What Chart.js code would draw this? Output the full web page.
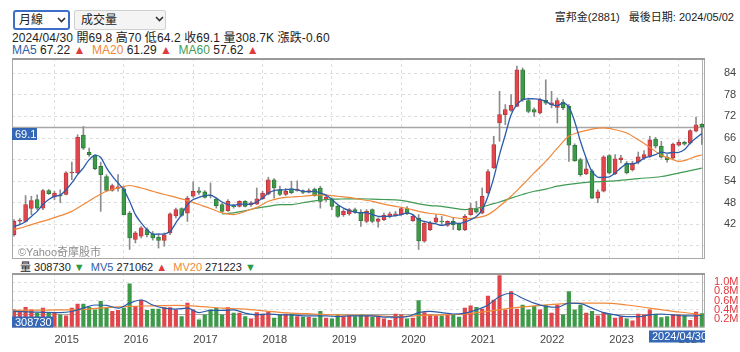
<!DOCTYPE html>
<html>
<head>
<meta charset="utf-8">
<script src="https://cdn.jsdelivr.net/npm/chart.js@4.4.1/dist/chart.umd.min.js"></script>
<style>
  body { margin: 0; width: 740px; height: 352px; background: #fff; position: relative; overflow: hidden;
         font-family: "Liberation Sans", Arial, "Noto Sans CJK TC", sans-serif; color: #222; }
  .abs { position: absolute; white-space: nowrap; }
  .sel { position: absolute; top: 10px; height: 20px; box-sizing: border-box; font-size: 12px; line-height: 16px; }
  .sel svg { position: absolute; top: 5px; }
  .info { font-size: 11px; line-height: 12px; }
  .big { font-size: 12px; }
  .up { color: #e0393e; } .dn { color: #2f9a3f; }
  canvas { position: absolute; left: 0; }
</style>
</head>
<body>
<div class="sel" style="left:13px;width:57px;border:2px solid #3d6fc6;border-radius:3px;padding-left:4px;">月線
  <svg style="left:42px" width="9" height="6"><polyline points="1,1 4.5,4.5 8,1" fill="none" stroke="#333" stroke-width="1.6"/></svg></div>
<div class="sel" style="left:74px;width:92px;border:1px solid #d0d0d0;background:#f4f4f4;border-radius:2px;padding:1px 0 0 6px;">成交量
  <svg style="left:80px" width="9" height="6"><polyline points="1,1 4.5,4.5 8,1" fill="none" stroke="#333" stroke-width="1.6"/></svg></div>
<div class="abs info" style="right:6px;top:11px;">富邦金(2881)&nbsp;&nbsp; 最後日期: 2024/05/02</div>
<div class="abs info big" style="left:12px;top:32px;letter-spacing:0.1px;">2024/04/30 開69.8 高70 低64.2 收69.1 量308.7K 漲跌-0.60</div>
<div class="abs info big" style="left:12px;top:44px;"><span style="color:#2a5caa">MA5</span> 67.22 <span class="up">▲</span>&nbsp;
  <span style="color:#f0883a">MA20</span> 61.29 <span class="up">▲</span>&nbsp; <span style="color:#3f9b53">MA60</span> 57.62 <span class="up">▲</span></div>
<div class="abs info" style="left:20px;top:261px;">量 308730 <span class="dn">▼</span>&nbsp; <span style="color:#2a5caa">MV5</span> 271062 <span class="up">▲</span>&nbsp;
  <span style="color:#f0883a">MV20</span> 271223 <span class="dn">▼</span></div>

<canvas id="price" width="740" height="206" style="top:56px"></canvas>
<canvas id="volume" width="740" height="80" style="top:270px"></canvas>

<script>
// monthly candles, 2014/05 .. 2024/04 (index 0 .. 119)
const firstYear = 2014, firstMonth = 5;
const yearLabels = ['2015', '2016', '2017', '2018', '2019', '2020', '2021', '2022', '2023', '2024'];
const priceTicks = [36, 42, 48, 54, 60, 66, 72, 78, 84];
const volumeTicks = [200, 400, 600, 800, 1000]; // thousands of lots

const opens = [39.1, 42.9, 42.8, 46.4, 48.9, 46.5, 51.4, 49.6, 50.1, 50.3, 56.3, 56.3, 66.8, 62.0, 61.2, 58.1, 55.3, 51.4, 52.0, 51.9,
  45.1, 37.8, 38.7, 40.5, 39.3, 38.4, 37.5, 39.6, 44.3, 46.4, 45.1, 49.8, 51.3, 51.0, 50.1, 49.0, 47.5, 45.8, 47.2, 47.0,
  48.4, 47.4, 47.6, 49.1, 50.4, 54.4, 51.6, 50.3, 51.9, 51.4, 51.3, 51.0, 51.8, 52.1, 48.8, 49.1, 47.0, 44.7, 44.9, 46.1,
  45.4, 42.8, 46.1, 42.8, 43.3, 44.2, 44.5, 44.7, 46.4, 43.0, 43.7, 37.3, 40.5, 42.6, 42.9, 41.7, 42.8, 42.1, 40.5, 44.7,
  46.3, 45.1, 50.7, 57.7, 70.2, 72.5, 73.7, 74.8, 85.0, 76.4, 73.9, 73.0, 76.5, 75.3, 74.5, 76.0, 74.8, 64.0, 60.0, 56.0,
  56.9, 49.3, 51.2, 61.1, 56.0, 60.0, 59.0, 57.2, 59.3, 60.4, 60.9, 65.7, 63.7, 60.6, 60.4, 64.0, 64.8, 64.6, 67.9, 69.8];
const highs = [43.3, 43.6, 50.0, 49.8, 50.2, 51.7, 51.7, 51.2, 51.6, 56.7, 59.3, 66.9, 69.2, 63.2, 61.4, 59.3, 55.8, 53.2, 55.8, 52.6,
  45.6, 40.0, 41.4, 41.0, 40.0, 39.1, 39.6, 45.2, 46.5, 46.6, 49.8, 53.8, 52.3, 51.4, 53.5, 49.3, 47.9, 48.9, 47.5, 48.6,
  48.6, 48.4, 52.1, 51.2, 55.1, 54.7, 52.6, 52.0, 54.0, 54.1, 51.6, 51.9, 52.1, 52.6, 50.1, 49.3, 47.3, 46.1, 46.4, 46.5,
  46.1, 46.1, 46.3, 43.8, 45.1, 45.4, 45.6, 46.8, 46.9, 44.7, 44.7, 42.6, 42.8, 44.7, 44.2, 43.0, 43.8, 42.4, 44.7, 47.9,
  48.4, 52.1, 57.2, 66.5, 79.0, 75.3, 78.1, 86.0, 85.5, 77.1, 74.4, 77.1, 82.2, 79.0, 77.1, 76.7, 75.3, 64.4, 60.4, 60.4,
  57.2, 51.6, 61.1, 61.4, 61.4, 61.2, 59.5, 59.5, 62.1, 62.5, 66.5, 66.2, 65.1, 61.4, 64.6, 65.5, 65.1, 68.3, 71.8, 70.0];
const lows = [38.7, 42.2, 42.6, 44.7, 46.1, 46.1, 50.3, 48.8, 48.0, 50.2, 54.4, 56.1, 62.8, 60.9, 57.2, 45.6, 51.2, 51.2, 51.2, 44.7,
  35.0, 36.8, 38.2, 38.5, 37.6, 35.4, 35.9, 39.1, 43.8, 44.2, 42.8, 49.5, 50.3, 49.3, 49.3, 46.5, 45.4, 45.6, 46.5, 46.8,
  46.8, 47.0, 47.5, 48.9, 50.2, 49.3, 50.0, 50.0, 50.5, 51.2, 50.5, 50.7, 49.8, 46.5, 48.4, 46.1, 43.9, 44.2, 44.5, 45.0,
  41.4, 42.4, 42.4, 41.2, 43.0, 43.8, 44.2, 44.5, 44.7, 42.8, 35.0, 37.0, 40.2, 42.4, 41.9, 41.4, 40.5, 40.2, 40.2, 44.5,
  45.1, 44.9, 50.4, 57.5, 65.1, 69.7, 73.4, 74.8, 76.2, 73.0, 72.0, 72.7, 75.3, 74.4, 70.2, 73.9, 59.5, 59.5, 55.4, 55.8,
  49.1, 48.0, 51.0, 56.0, 55.8, 59.1, 56.0, 56.8, 58.8, 60.0, 60.6, 63.2, 60.4, 59.3, 60.2, 63.7, 64.0, 64.3, 67.7, 64.2];
const closes = [42.8, 43.2, 47.5, 48.6, 46.5, 51.4, 50.5, 50.7, 49.9, 56.3, 56.5, 66.2, 63.2, 61.4, 57.5, 55.8, 51.4, 52.8, 52.4, 44.7,
  38.2, 39.6, 41.0, 39.1, 38.2, 37.5, 39.1, 44.9, 46.1, 44.5, 49.3, 51.2, 50.9, 49.5, 49.9, 47.2, 45.6, 48.4, 46.9, 48.4,
  47.0, 48.0, 49.1, 50.7, 54.4, 52.1, 50.3, 51.2, 50.8, 51.8, 50.9, 51.4, 50.0, 48.4, 49.6, 47.0, 44.2, 45.6, 46.1, 45.4,
  43.0, 45.6, 42.8, 43.5, 44.5, 44.9, 44.9, 46.4, 44.9, 44.2, 37.4, 42.3, 42.4, 43.8, 42.7, 42.8, 41.9, 40.5, 44.2, 46.5,
  45.4, 49.8, 56.7, 64.2, 72.5, 73.9, 75.1, 85.0, 76.7, 73.4, 73.2, 76.7, 75.7, 75.8, 76.4, 74.4, 64.0, 59.7, 55.8, 57.4,
  49.3, 51.0, 60.8, 56.3, 60.2, 60.5, 56.3, 59.0, 60.8, 61.4, 65.5, 63.7, 60.7, 60.0, 64.3, 64.8, 64.3, 68.1, 69.7, 69.1];
const volumes = [390, 360, 450, 390, 320, 430, 320, 320, 280, 260, 430, 520, 520, 450, 390, 580, 430, 360, 380, 430,
  970, 470, 610, 380, 410, 410, 440, 440, 390, 240, 540, 390, 170, 280, 390, 430, 280, 440, 320, 320,
  240, 190, 330, 300, 360, 210, 280, 300, 300, 240, 230, 230, 210, 360, 210, 190, 280, 240, 260, 240,
  280, 250, 230, 230, 190, 160, 300, 280, 190, 210, 600, 330, 280, 260, 260, 280, 280, 230, 430, 480,
  450, 410, 700, 610, 1150, 390, 800, 410, 500, 390, 470, 390, 500, 320, 500, 280, 800, 390, 500, 320,
  360, 260, 330, 280, 210, 240, 190, 150, 300, 280, 390, 300, 220, 240, 280, 280, 260, 160, 340, 308.73];

// moving averages (null = not read)
const ma5 = [41.4, 41.9, 42.8, 44.2, 45.6, 47.5, 48.9, 49.8, 50.1, 51.6, 53.5, 55.8, 57.7, 60.0, 61.2, 60.6, 57.7, 55.4, 53.5, 51.6,
  48.4, 44.7, 42.4, 40.5, 39.3, 39.3, 39.3, 40.0, 42.4, 44.7, 47.5, 48.9, 49.5, 50.0, 50.1, 49.3, 48.2, 47.5, 47.3, 47.6,
  47.6, 47.6, 48.2, 49.3, 50.7, 51.4, 51.6, 51.6, 51.8, 51.6, 51.2, 51.0, 51.2, 50.7, 50.1, 48.9, 47.5, 46.5, 45.8, 45.4,
  45.2, 45.2, 44.7, 44.2, 44.2, 44.2, 44.4, 44.7, 45.2, 44.7, 43.3, 42.8, 42.4, 42.1, 41.7, 42.1, 42.4, 42.2, 42.6, 43.3,
  44.2, 46.1, 49.8, 54.9, 61.4, 66.9, 72.5, 75.3, 76.7, 76.9, 76.9, 76.7, 76.2, 75.3, 75.0, 75.7, 74.6, 70.6, 65.1, 60.4,
  56.7, 55.1, 55.1, 55.2, 56.3, 57.7, 58.8, 58.8, 59.3, 60.4, 60.9, 61.4, 62.1, 61.8, 62.0, 62.0, 62.8, 64.6, 66.0, 67.22];
const ma20 = [40.5, null, 41.4, null, 42.4, null, 43.3, null, 44.4, null, 45.6, null, 47.5, null, 49.5, null, 51.2, null, 52.1, null,
  52.8, null, 52.1, null, 51.2, null, 50.3, null, 49.5, null, 48.6, null, 47.5, null, 46.4, null, 45.2, null, 44.7, null,
  45.6, null, 46.7, null, 48.4, null, 49.3, null, 49.6, null, 49.8, null, 50.1, null, 50.1, null, 49.8, null, 49.5, null,
  48.9, null, 48.4, null, 47.6, null, 47.0, null, 46.4, null, 45.6, null, 45.0, null, 44.7, null, 43.9, null, 43.6, null,
  43.8, null, 44.7, null, 47.0, null, 49.8, null, 53.0, null, 56.3, null, 59.5, null, 63.2, null, 66.5, null, 67.7, null,
  68.5, null, 68.8, null, 68.3, null, 67.4, null, 65.5, null, 63.4, null, 61.2, null, 60.0, 59.5, 59.7, 60.3, 60.9, 61.29];
const ma60 = [null, null, null, null, null, null, null, null, null, null, null, null, null, null, null, null, null, null, null, null,
  null, null, null, null, null, null, null, null, null, null, null, null, null, null, null, null, 44.9, null, 45.2, null,
  45.8, null, 46.5, null, 47.0, null, 47.5, null, 47.5, null, 48.0, null, 48.5, null, 48.9, null, 49.0, null, 49.1, null,
  49.1, null, 49.0, null, 48.9, null, 48.8, null, 48.4, null, 47.7, null, 47.2, null, 47.0, null, 46.5, null, 46.1, null,
  46.4, null, 47.3, null, 48.2, null, 49.3, null, 50.3, null, 51.2, null, 51.8, null, 52.6, null, 53.1, null, null, null,
  53.8, null, null, null, 54.1, null, null, null, 54.7, null, null, null, 55.3, null, null, null, 56.6, null, null, 57.62];
const mv5 = [360, null, null, null, 340, null, null, null, 330, null, 355, null, 430, null, 500, null, 490, null, 430, null,
  540, null, 610, null, 500, null, 430, null, 410, null, 430, null, 330, null, 380, null, 380, null, 390, null,
  320, null, 280, null, 300, null, 280, null, 280, null, 260, null, 260, null, 260, null, 240, null, 260, null,
  260, null, 260, null, 230, null, 230, null, 240, null, 330, null, 360, null, 330, null, 300, null, 320, null,
  390, null, 500, null, 690, null, 760, null, 650, null, 540, null, 470, null, 450, null, 540, null, 530, null,
  430, null, 330, null, 280, null, 240, null, 240, null, 280, null, 300, null, 280, null, 260, null, 260, 271.062];
const mv20 = [380, null, null, null, 385, null, null, null, 390, null, null, null, 400, null, null, null, 440, null, null, null,
  470, null, null, null, 480, null, null, null, 490, null, null, null, 470, null, null, null, 430, null, null, null,
  410, null, null, null, 360, null, null, null, 320, null, null, null, 300, null, null, null, 280, null, null, null,
  270, null, null, null, 255, null, 240, null, null, null, 265, null, null, null, 280, null, null, null, 300, null,
  null, null, 360, null, null, null, 430, null, null, null, 480, null, null, null, 520, null, null, null, 540, null,
  null, null, 540, null, null, null, 500, null, null, null, 430, null, null, null, 360, null, null, null, 300, 271.223];

const lastPrice = 69.1;
const lastVolume = 308.73;

const UP = '#e0464b', UP_EDGE = '#b3343a', DOWN = '#3c9a49', DOWN_EDGE = '#2a7635', WICK = '#8c8c8c';
const BLUE_BOX = '#3468b6';
const xMin = -0.35, xMax = 119.55;
const yearTickIdx = yearLabels.map((y, i) => 12 - firstMonth + 12 * i); // Dec candle ~ Jan 1

const idx = opens.map((_, i) => i);
const isUp = idx.map(i => closes[i] >= opens[i]);
const pts = arr => arr.map((v, i) => (v === null ? null : { x: i, y: v })).filter(p => p);

Chart.defaults.font.family = '"Liberation Sans", Arial, "Noto Sans CJK TC", sans-serif';
Chart.defaults.font.size = 11;
Chart.defaults.animation = false;

// keep tick labels from pushing the plot area in
function noPad(s) { s.paddingTop = 0; s.paddingBottom = 0; s.paddingLeft = 0; s.paddingRight = 0; }

function drawBox(ctx, x, y, w, h, text) {
  ctx.fillStyle = BLUE_BOX;
  ctx.fillRect(x, y, w, h);
  ctx.fillStyle = '#fff';
  ctx.font = '11px "Liberation Sans", Arial, sans-serif';
  ctx.textBaseline = 'middle';
  ctx.textAlign = 'left';
  ctx.fillText(text, x + 3, y + h / 2 + 0.5);
}

function framePlugin(kind) {
  return {
    id: 'frame_' + kind,
    beforeDatasetsDraw(chart) {
      const { ctx, chartArea: a, scales } = chart;
      const y = Math.round(scales.y.getPixelForValue(kind === 'price' ? lastPrice : lastVolume)) + 0.5;
      ctx.save();
      ctx.strokeStyle = '#a6a6a6';
      ctx.lineWidth = kind === 'price' ? 1.5 : 1;
      ctx.beginPath(); ctx.moveTo(a.left, y); ctx.lineTo(a.right, y); ctx.stroke();
      const x = Math.round(scales.x.getPixelForValue(idx.length - 1)) + 0.5;
      ctx.strokeStyle = '#b0b0b0'; ctx.lineWidth = 1;
      ctx.beginPath(); ctx.moveTo(x, a.top); ctx.lineTo(x, a.bottom); ctx.stroke();
      ctx.restore();
    },
    afterDraw(chart) {
      const { ctx, chartArea: a, scales } = chart;
      ctx.save();
      ctx.strokeStyle = '#a9a9a9'; ctx.lineWidth = 1;
      ctx.strokeRect(a.left + 0.5, a.top + 0.5, a.right - a.left - 1, a.bottom - a.top - 1);
      ctx.strokeStyle = '#9a9a9a'; ctx.lineWidth = 2;
      ctx.beginPath(); ctx.moveTo(a.left, a.top + 1); ctx.lineTo(a.right, a.top + 1); ctx.stroke();
      if (kind === 'price') {
        const y = Math.round(scales.y.getPixelForValue(lastPrice));
        drawBox(ctx, a.left, y + 1, 25, 12, String(lastPrice));
        ctx.fillStyle = '#8e8e8e';
        ctx.font = '11px "Liberation Sans", Arial, "Noto Sans CJK TC", sans-serif';
        ctx.textBaseline = 'middle';
        ctx.fillText('©Yahoo奇摩股市', a.left + 6, a.bottom - 6);
      } else {
        drawBox(ctx, a.left, a.bottom - 11, 41, 11, String(Math.round(lastVolume * 1000)));
        drawBox(ctx, a.right - 56, a.bottom + 3, 56, 12, '2024/04/30');
      }
      ctx.restore();
    }
  };
}

const gridOpts = { color: '#dedede', drawTicks: false };
const dashBorder = { display: false, dash: [3, 3] };

const xAxis = (showLabels) => ({
  type: 'linear', min: xMin, max: xMax, offset: false,
  afterBuildTicks: s => { s.ticks = yearTickIdx.map(v => ({ value: v })); },
  afterFit: s => { s.height = showLabels ? 22 : 0; noPad(s); },
  grid: { ...gridOpts, offset: false }, border: dashBorder,
  ticks: {
    display: showLabels, align: 'start', padding: 6, color: '#444', maxRotation: 0, autoSkip: false,
    callback: v => yearLabels[yearTickIdx.indexOf(v)]
  }
});

new Chart(document.getElementById('price'), {
  type: 'bar',
  data: {
    datasets: [
      { type: 'line', label: 'MA5', data: pts(ma5), borderColor: '#2a5caa', borderWidth: 1.3, pointRadius: 0, pointHoverRadius: 0, tension: 0.3, order: 0 },
      { type: 'line', label: 'MA20', data: pts(ma20), borderColor: '#f0883a', borderWidth: 1.2, pointRadius: 0, pointHoverRadius: 0, cubicInterpolationMode: 'monotone', order: 0 },
      { type: 'line', label: 'MA60', data: pts(ma60), borderColor: '#3f9b53', borderWidth: 1.2, pointRadius: 0, pointHoverRadius: 0, cubicInterpolationMode: 'monotone', order: 0 },
      { label: 'body', data: idx.map(i => ({ x: i, y: [opens[i], closes[i]] })), barThickness: 4, grouped: false,
        backgroundColor: idx.map(i => isUp[i] ? UP : DOWN), borderColor: idx.map(i => isUp[i] ? UP_EDGE : DOWN_EDGE),
        borderWidth: 0.8, borderSkipped: false, order: 1 },
      { label: 'wick', data: idx.map(i => ({ x: i, y: [lows[i], highs[i]] })), barThickness: 1, grouped: false,
        backgroundColor: WICK, order: 2 }
    ]
  },
  options: {
    responsive: false,
    devicePixelRatio: 1,
    layout: { autoPadding: false, padding: { top: 2, bottom: 3, left: 12, right: 0 } },
    plugins: { legend: { display: false }, tooltip: { enabled: false } },
    scales: {
      x: xAxis(false),
      y: {
        position: 'right', min: 32.35, max: 88.26,
        afterBuildTicks: s => { s.ticks = priceTicks.map(v => ({ value: v })); },
        afterFit: s => { s.width = 35; noPad(s); },
        grid: gridOpts, border: dashBorder,
        ticks: { padding: 19, color: '#444', autoSkip: false, callback: v => (v === 36 ? '' : v) }
      }
    }
  },
  plugins: [framePlugin('price')]
});

new Chart(document.getElementById('volume'), {
  type: 'bar',
  data: {
    datasets: [
      { type: 'line', label: 'MV5', data: pts(mv5), borderColor: '#2a5caa', borderWidth: 1.2, pointRadius: 0, pointHoverRadius: 0, cubicInterpolationMode: 'monotone', order: 0 },
      { type: 'line', label: 'MV20', data: pts(mv20), borderColor: '#f0883a', borderWidth: 1.2, pointRadius: 0, pointHoverRadius: 0, cubicInterpolationMode: 'monotone', order: 0 },
      { label: 'volume', data: idx.map(i => ({ x: i, y: volumes[i] })), barThickness: 3.5, grouped: false,
        backgroundColor: idx.map(i => isUp[i] ? UP : DOWN), order: 1 }
    ]
  },
  options: {
    responsive: false,
    devicePixelRatio: 1,
    layout: { autoPadding: false, padding: { top: 3, bottom: 0.5, left: 12, right: 0 } },
    plugins: { legend: { display: false }, tooltip: { enabled: false } },
    scales: {
      x: xAxis(true),
      y: {
        position: 'right', min: 0, max: 1210,
        afterBuildTicks: s => { s.ticks = volumeTicks.map(v => ({ value: v })); },
        afterFit: s => { s.width = 35; noPad(s); },
        grid: gridOpts, border: dashBorder,
        ticks: { padding: 9, color: '#e0393e', autoSkip: false, callback: v => (v / 1000).toFixed(1) + 'M' }
      }
    }
  },
  plugins: [framePlugin('volume')]
});
</script>
</body>
</html>
